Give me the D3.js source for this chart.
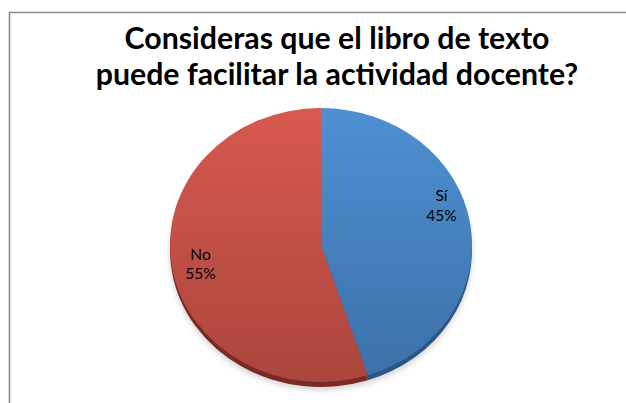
<!DOCTYPE html>
<html>
<head>
<meta charset="utf-8">
<script src="https://cdn.jsdelivr.net/npm/d3@7"></script>
<style>
  body { margin: 0; background: #fff; }
  svg { display: block; }
</style>
</head>
<body>
<svg id="chart" width="626" height="403"></svg>
<script>
// data
var categories = ['Sí', 'No'];
var values = [45, 55];
var titleLines = ['Consideras que el libro de texto', 'puede facilitar la actividad docente?'];

var topColors = ['#4f90d2', '#d8594f'];
var bottomColors = ['#3c70a8', '#aa463d'];
var sideColors = ['#2c5684', '#7a2a24'];

var svg = d3.select('#chart');
var W = 626, H = 403;

// frame
svg.append('path')
  .attr('d', 'M9.5,' + H + 'V12.5H' + W)
  .attr('fill', 'none')
  .attr('stroke', '#8a8a8a')
  .attr('stroke-width', 1.6);

// title
svg.append('text')
  .attr('font-family', 'Lato, "Open Sans", sans-serif')
  .attr('font-weight', 'bold')
  .attr('font-size', 30.3)
  .attr('text-anchor', 'middle')
  .attr('fill', '#000')
  .selectAll('tspan')
  .data(titleLines)
  .enter().append('tspan')
    .attr('x', 337)
    .attr('y', (d, i) => 49 + i * 36)
    .text(d => d);

var cx = 321, cy = 245, rx = 151, ry = 137, depth = 5;

var defs = svg.append('defs');
categories.forEach((c, i) => {
  var g = defs.append('linearGradient')
    .attr('id', 'grad' + i)
    .attr('gradientUnits', 'userSpaceOnUse')
    .attr('x1', 0).attr('y1', -rx)
    .attr('x2', 0).attr('y2', rx);
  g.append('stop').attr('offset', '0%').attr('stop-color', topColors[i]);
  g.append('stop').attr('offset', '100%').attr('stop-color', bottomColors[i]);
});
var blur = defs.append('filter').attr('id', 'shadow')
  .attr('x', '-20%').attr('y', '-20%').attr('width', '140%').attr('height', '140%');
blur.append('feGaussianBlur').attr('stdDeviation', 3);

var pie = d3.pie().sort(null).value(d => d);
var arcs = pie(values);
var arc = d3.arc().innerRadius(0).outerRadius(rx);
var labelArc = d3.arc().innerRadius(122).outerRadius(122);

// soft shadow under the pie
svg.append('ellipse')
  .attr('cx', cx).attr('cy', cy + depth + 3)
  .attr('rx', rx).attr('ry', ry)
  .attr('fill', '#000')
  .attr('opacity', 0.18)
  .attr('filter', 'url(#shadow)');

var sy = ry / rx;

// thickness
var side = svg.append('g')
  .attr('transform', 'translate(' + cx + ',' + (cy + depth) + ') scale(1,' + sy + ')');
side.selectAll('path')
  .data(arcs)
  .enter().append('path')
    .attr('d', arc)
    .attr('fill', (d, i) => sideColors[i]);

// top face
var face = svg.append('g')
  .attr('transform', 'translate(' + cx + ',' + cy + ') scale(1,' + sy + ')');
face.selectAll('path')
  .data(arcs)
  .enter().append('path')
    .attr('d', arc)
    .attr('fill', (d, i) => 'url(#grad' + i + ')');

// labels
var labelNudge = [-24, 0];
var labels = svg.append('g')
  .attr('font-family', 'Lato, "Open Sans", sans-serif')
  .attr('font-size', 15.5)
  .attr('fill', '#000')
  .attr('text-anchor', 'middle');

arcs.forEach((d, i) => {
  var p = labelArc.centroid(d);
  var x = cx + p[0];
  var y = cy + p[1] * sy + labelNudge[i];
  var t = labels.append('text').attr('x', x).attr('y', y);
  t.append('tspan').attr('x', x).attr('dy', '-0.15em').text(categories[i]);
  t.append('tspan').attr('x', x).attr('dy', '1.25em')
    .text(Math.round(d.value / d3.sum(values) * 100) + '%');
});
</script>
</body>
</html>
